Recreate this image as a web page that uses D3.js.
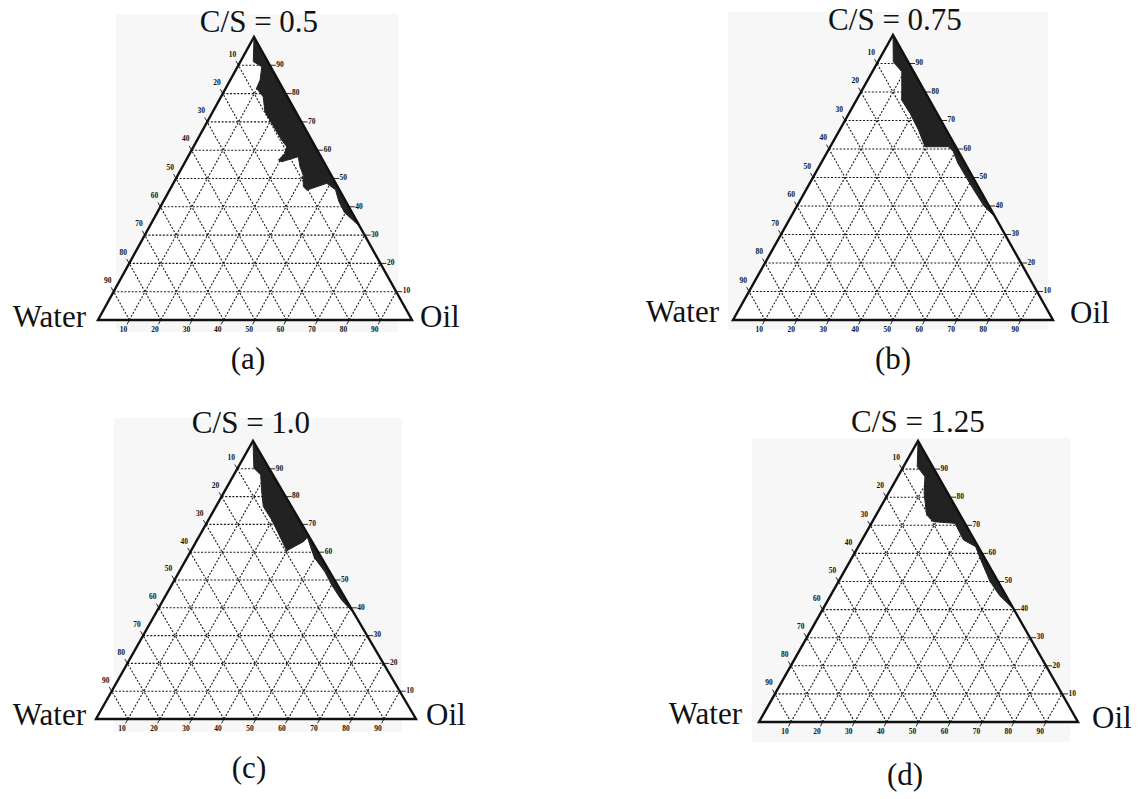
<!DOCTYPE html>
<html>
<head>
<meta charset="utf-8">
<script src="https://cdn.jsdelivr.net/npm/d3@7"></script>
<style>
  html, body { margin: 0; padding: 0; background: #fff; }
  svg text { font-family: "Liberation Serif", "DejaVu Serif", serif; fill: #111; }
</style>
</head>
<body>
<svg id="chart" width="1147" height="799"></svg>
<script>
// grid / tick values (percent)
const gridValues = [10, 20, 30, 40, 50, 60, 70, 80, 90];

// titles and captions
const panelTitles = ['C/S = 0.5', 'C/S = 0.75', 'C/S = 1.0', 'C/S = 1.25'];
const panelCaptions = ['(a)', '(b)', '(c)', '(d)'];
const cornerLabels = ['Water', 'Oil'];

// microemulsion regions, points as [smix %, water %] (oil = 100 - smix - water)
const regionA = [
  [100, 0], [91.3, 4.6], [89.5, 2.8], [84.8, 5.7], [81.9, 8.3], [78.9, 7.7],
  [73.6, 9.8], [69.5, 9.7], [63.6, 9.5], [61.2, 9.1], [58.9, 10.8], [56.5, 14.1],
  [55.9, 13.4], [57.7, 7.2], [54.2, 8.4], [51.2, 8.9], [47.1, 10.9], [45.9, 10.4],
  [48.3, 2.8], [46, 1.2], [42, 2.2], [38, 2.4], [33, 0]
];
const regionB = [
  [100, 0], [90.6, 4.6], [87.1, 3.7], [80.7, 6.9], [77.2, 8.7], [72.5, 8.4],
  [66.7, 8.7], [60.8, 9.6], [60.8, 2.3], [59.2, 1.6], [55, 2.2], [47, 2.0],
  [40, 1.6], [36, 0]
];
const regionC = [
  [100, 0], [90.2, 4.7], [87.8, 3.8], [82.4, 6.3], [76.4, 8.8], [71.6, 8.6],
  [64.4, 9.2], [60.5, 9.6], [63.8, 2.7], [65.4, 0.6], [62, 1.4], [58, 2.2],
  [53, 1.5], [48, 1.8], [43, 1.5], [38, 0]
];
const regionD = [
  [100, 0], [90.9, 4.8], [87.3, 4.2], [81.4, 7.4], [73.7, 10.5], [71.3, 9.6],
  [70.7, 3.1], [64.8, 3.4], [62.4, 0.8], [58, 1.5], [50, 2.5], [45, 2.0],
  [40, 0]
];
const regions = [regionA, regionB, regionC, regionD];

// layout of the four panels (pixel corners of each triangle)
const panels = [
  { L: [98, 320], R: [412, 320], T: [254, 37], bg: [116, 14, 282, 318],
    title: [259, 32], caption: [248, 369], water: [86, 327], oil: [420, 327] },
  { L: [733, 320], R: [1053, 320], T: [893, 35], bg: [728, 12, 320, 318],
    title: [895, 30], caption: [893, 369], water: [719, 322], oil: [1070, 323] },
  { L: [96, 719], R: [416, 719], T: [253, 441], bg: [114, 418, 288, 314],
    title: [251, 433], caption: [249, 778], water: [86, 725], oil: [426, 725] },
  { L: [759, 722], R: [1078, 722], T: [918, 441], bg: [752, 438, 318, 304],
    title: [918, 432], caption: [905, 785], water: [742, 724], oil: [1092, 728] }
];

const svg = d3.select('#chart');

panels.forEach((p, i) => {
  const g = svg.append('g');

  // ternary mapping via scales: smix -> height, oil -> base position, smix -> apex shift
  const yS = d3.scaleLinear().domain([0, 100]).range([p.L[1], p.T[1]]);
  const xO = d3.scaleLinear().domain([0, 100]).range([p.L[0], p.R[0]]);
  const xShift = d3.scaleLinear().domain([0, 100]).range([0, p.T[0] - p.L[0]]);
  const pt = (s, w) => [xO(100 - s - w) + xShift(s), yS(s)];

  // faint scan background
  g.append('rect')
    .attr('x', p.bg[0]).attr('y', p.bg[1])
    .attr('width', p.bg[2]).attr('height', p.bg[3])
    .attr('fill', '#f7f7f7');

  const tri = [pt(0, 100), pt(0, 0), pt(100, 0)];
  g.append('path')
    .attr('d', d3.line()(tri) + 'Z')
    .attr('fill', '#fff');

  // dashed grid
  const gridLines = [];
  gridValues.forEach(v => {
    gridLines.push([pt(v, 100 - v), pt(v, 0)]);       // constant smix
    gridLines.push([pt(0, 100 - v), pt(100 - v, 0)]); // constant oil
    gridLines.push([pt(0, v), pt(100 - v, v)]);       // constant water
  });
  g.selectAll('.grid')
    .data(gridLines)
    .enter()
    .append('path')
    .attr('d', d => d3.line()(d))
    .attr('stroke', '#1a1a1a')
    .attr('stroke-width', 1.1)
    .attr('stroke-dasharray', '2,1.6')
    .attr('fill', 'none');

  // phase region
  g.append('path')
    .attr('d', d3.line().curve(d3.curveLinearClosed)(regions[i].map(d => pt(d[0], d[1]))))
    .attr('fill', '#222')
    .attr('stroke', '#222')
    .attr('stroke-width', 1)
    .attr('stroke-linejoin', 'round');

  // outline
  g.append('path')
    .attr('d', d3.line()(tri) + 'Z')
    .attr('fill', 'none')
    .attr('stroke', '#111')
    .attr('stroke-width', 2.4)
    .attr('stroke-linejoin', 'miter');

  const unit = (a, b) => {
    const dx = b[0] - a[0], dy = b[1] - a[1], n = Math.hypot(dx, dy);
    return [dx / n, dy / n];
  };
  const dLeft = unit(tri[1], tri[2]);   // water ticks, up-left
  const dBottom = unit(tri[2], tri[0]); // oil ticks, down-left
  const ticks = g.append('g')
    .attr('font-size', 7.5)
    .attr('font-weight', 'bold')
    .style('opacity', 0.99);

  gridValues.forEach(v => {
    // left side: water %
    const a = pt(100 - v, v);
    ticks.append('line')
      .attr('x1', a[0]).attr('y1', a[1])
      .attr('x2', a[0] + dLeft[0] * 5).attr('y2', a[1] + dLeft[1] * 5)
      .attr('stroke', '#111').attr('stroke-width', 0.9);
    ticks.append('text')
      .attr('x', a[0] + dLeft[0] * 12).attr('y', a[1] + dLeft[1] * 12)
      .attr('text-anchor', 'middle').attr('dominant-baseline', 'middle')
      .text(v);

    // right side: smix %
    const b = pt(v, 0);
    ticks.append('line')
      .attr('x1', b[0]).attr('y1', b[1])
      .attr('x2', b[0] + 6).attr('y2', b[1])
      .attr('stroke', '#111').attr('stroke-width', 0.9);
    ticks.append('text')
      .attr('x', b[0] + 6.5).attr('y', b[1])
      .attr('dominant-baseline', 'middle')
      .text(v);

    // bottom: oil %
    const c = pt(0, 100 - v);
    ticks.append('line')
      .attr('x1', c[0]).attr('y1', c[1])
      .attr('x2', c[0] + dBottom[0] * 5).attr('y2', c[1] + dBottom[1] * 5)
      .attr('stroke', '#111').attr('stroke-width', 0.9);
    ticks.append('text')
      .attr('x', c[0] + dBottom[0] * 12).attr('y', c[1] + dBottom[1] * 12)
      .attr('text-anchor', 'middle').attr('dominant-baseline', 'middle')
      .text(v);
  });

  // labels
  const big = 31;
  g.append('text')
    .attr('x', p.title[0]).attr('y', p.title[1])
    .attr('text-anchor', 'middle')
    .attr('font-size', big)
    .text(panelTitles[i]);
  g.append('text')
    .attr('x', p.caption[0]).attr('y', p.caption[1])
    .attr('text-anchor', 'middle')
    .attr('font-size', big)
    .text(panelCaptions[i]);
  g.append('text')
    .attr('x', p.water[0]).attr('y', p.water[1])
    .attr('text-anchor', 'end')
    .attr('font-size', big)
    .text(cornerLabels[0]);
  g.append('text')
    .attr('x', p.oil[0]).attr('y', p.oil[1])
    .attr('text-anchor', 'start')
    .attr('font-size', big)
    .text(cornerLabels[1]);
});
</script>
</body>
</html>
